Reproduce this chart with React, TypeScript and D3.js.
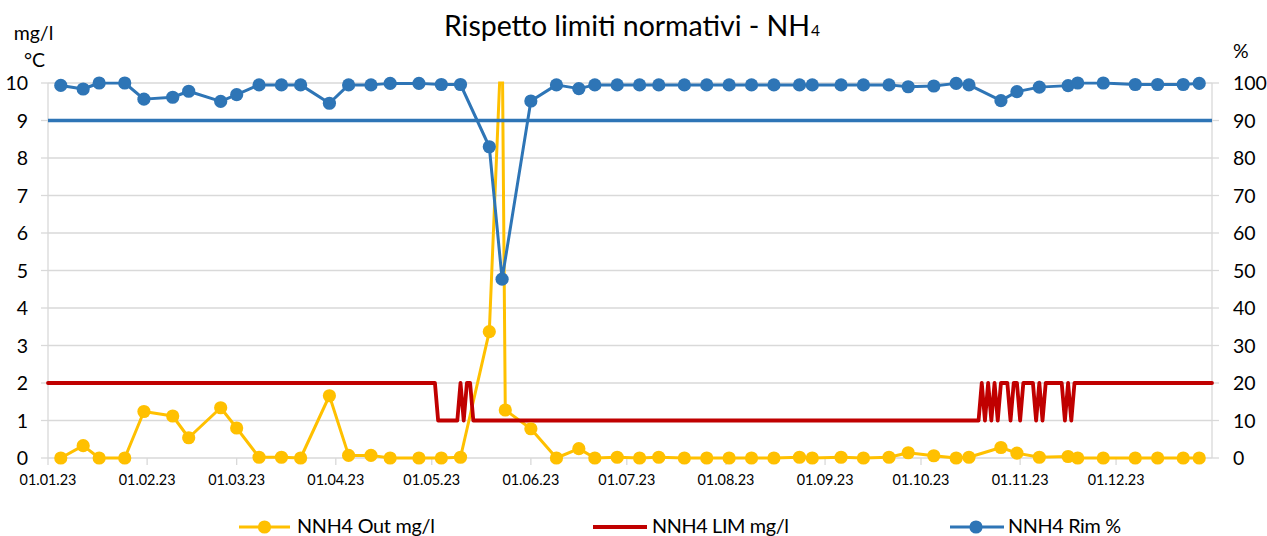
import React from "react";
import * as d3 from "d3";

// ---------- DATA ----------
const sampleDates = [
  "2023-01-05", "2023-01-12", "2023-01-17", "2023-01-25", "2023-01-31",
  "2023-02-09", "2023-02-14", "2023-02-24", "2023-03-01", "2023-03-08",
  "2023-03-15", "2023-03-21", "2023-03-30", "2023-04-05", "2023-04-12",
  "2023-04-18", "2023-04-27", "2023-05-04", "2023-05-10", "2023-05-19",
  "2023-05-23", "2023-05-24", "2023-06-01", "2023-06-09", "2023-06-16",
  "2023-06-21", "2023-06-28", "2023-07-05", "2023-07-11", "2023-07-19",
  "2023-07-26", "2023-08-02", "2023-08-09", "2023-08-16", "2023-08-24",
  "2023-08-28", "2023-09-06", "2023-09-13", "2023-09-21", "2023-09-27",
  "2023-10-05", "2023-10-12", "2023-10-16", "2023-10-26", "2023-10-31",
  "2023-11-07", "2023-11-16", "2023-11-19", "2023-11-27", "2023-12-07",
  "2023-12-14", "2023-12-22", "2023-12-27",
];

const outValues = [
  0, 0.33, 0, 0, 1.24,
  1.12, 0.54, 1.34, 0.8, 0.02,
  0.02, 0, 1.66, 0.07, 0.07,
  0, 0, 0, 0.02, 3.37,
  11.6, 1.28, 0.78, 0, 0.25,
  0, 0.02, 0, 0.02, 0,
  0, 0, 0, 0, 0.02,
  0, 0.02, 0, 0.02, 0.14,
  0.06, 0, 0.02, 0.28, 0.13,
  0.02, 0.04, 0, 0, 0,
  0, 0, 0,
];

const rimValues: (number | null)[] = [
  99.35, 98.4, 100, 100, 95.7,
  96.2, 97.8, 95.1, 96.9, 99.5,
  99.5, 99.5, 94.6, 99.5, 99.5,
  99.9, 99.9, 99.6, 99.6, 83,
  47.7, null, 95.2, 99.5, 98.5,
  99.5, 99.5, 99.5, 99.5, 99.5,
  99.5, 99.5, 99.5, 99.5, 99.5,
  99.5, 99.5, 99.5, 99.5, 99.0,
  99.2, 99.9, 99.5, 95.3, 97.7,
  98.9, 99.3, 100, 100, 99.6,
  99.6, 99.6, 99.9,
];

// LIM series vertices (daily series, collinear points omitted)
const limDates = [
  "2023-01-01", "2023-05-02", "2023-05-03", "2023-05-09", "2023-05-10",
  "2023-05-11", "2023-05-12", "2023-05-13", "2023-05-14", "2023-10-19",
  "2023-10-20", "2023-10-21", "2023-10-22", "2023-10-23", "2023-10-24",
  "2023-10-25", "2023-10-26", "2023-10-28", "2023-10-29", "2023-10-30",
  "2023-10-31", "2023-11-01", "2023-11-02", "2023-11-05", "2023-11-06",
  "2023-11-07", "2023-11-08", "2023-11-09", "2023-11-14", "2023-11-15",
  "2023-11-16", "2023-11-17", "2023-11-18", "2023-12-31",
];
const limValues = [
  2, 2, 1, 1, 2,
  1, 2, 2, 1, 1,
  2, 1, 2, 1, 2,
  1, 2, 2, 1, 2,
  2, 1, 2, 2, 1,
  2, 1, 2, 2, 1,
  2, 1, 2, 2,
];

const rimLimitDates = ["2023-01-01", "2023-12-31"];
const rimLimitValues = [90, 90];

const leftTicks = [0, 1, 2, 3, 4, 5, 6, 7, 8, 9, 10];
const rightTicks = [0, 10, 20, 30, 40, 50, 60, 70, 80, 90, 100];
const monthTicks = [
  "2023-01-01", "2023-02-01", "2023-03-01", "2023-04-01", "2023-05-01", "2023-06-01",
  "2023-07-01", "2023-08-01", "2023-09-01", "2023-10-01", "2023-11-01", "2023-12-01",
];
const xDomain = ["2023-01-01", "2023-12-31"];

const titleMain = "Rispetto limiti normativi  - NH";
const titleSub = "4";
const leftUnitLines = ["mg/l", "°C"];
const rightUnit = "%";
const seriesNames = ["NNH4 Out mg/l", "NNH4 LIM mg/l", "NNH4 Rim %"];

// ---------- STYLE ----------
const YELLOW = "#FFC000";
const RED = "#C00000";
const BLUE = "#2E75B6";
const GRID = "#D9D9D9";
const FONT = "Lato, 'Open Sans', sans-serif";

export default function App() {
  const W = 1267;
  const H = 536;
  const L = 48, R = 1212, T = 83, B = 458;

  const parse = d3.utcParse("%Y-%m-%d");
  const x = d3.scaleUtc().domain(xDomain.map((d) => parse(d) as Date)).range([L, R]);
  const yL = d3.scaleLinear().domain([0, 10]).range([B, T]);
  const yR = d3.scaleLinear().domain([0, 100]).range([B, T]);
  const fmt = d3.utcFormat("%d.%m.%y");

  type P = { d: Date; v: number };
  const outPts: P[] = sampleDates.map((d, i) => ({ d: parse(d) as Date, v: outValues[i] }));
  const rimPts: P[] = sampleDates
    .map((d, i) => ({ d: parse(d) as Date, v: rimValues[i] as number }))
    .filter((p, i) => rimValues[i] !== null);
  const limPts: P[] = limDates.map((d, i) => ({ d: parse(d) as Date, v: limValues[i] }));
  const rimLimPts: P[] = rimLimitDates.map((d, i) => ({ d: parse(d) as Date, v: rimLimitValues[i] }));

  const lineL = d3.line<P>().x((p) => x(p.d)).y((p) => yL(p.v));
  const lineR = d3.line<P>().x((p) => x(p.d)).y((p) => yR(p.v));

  const r = 6.6;
  const legY = 527;
  const legTextY = 532.5;

  return (
    <svg
      width={W}
      height={H}
      viewBox={`0 0 ${W} ${H}`}
      style={{ position: "absolute", left: 0, top: 0, display: "block", background: "#fff" }}
      fontFamily={FONT}
    >
      <defs>
        <clipPath id="clipLines">
          <rect x={L - 10} y={T - 1.5} width={R - L + 20} height={B - T + 10} />
        </clipPath>
        <clipPath id="clipMarkers">
          <rect x={L - 10} y={T - 9} width={R - L + 20} height={B - T + 20} />
        </clipPath>
      </defs>
      <rect x={0} y={0} width={W} height={H} fill="#fff" />

      {/* Title */}
      <text x={444} y={36} fontSize={28.5} fill="#000" textLength={366} lengthAdjust="spacing">
        {titleMain}
      </text>
      <text x={811} y={36} fontSize={15.5} fill="#000">
        {titleSub}
      </text>

      {/* Gridlines */}
      {leftTicks.map((t) => (
        <line key={"g" + t} x1={L} x2={R} y1={yL(t)} y2={yL(t)} stroke={GRID} strokeWidth={1.3} />
      ))}
      {/* Axis lines */}
      <line x1={L} x2={L} y1={T} y2={B} stroke={GRID} strokeWidth={1.3} />
      <line x1={R} x2={R} y1={T} y2={B} stroke={GRID} strokeWidth={1.3} />
      {/* Left ticks */}
      {leftTicks.map((t) => (
        <g key={"lt" + t}>
          <line x1={L - 7} x2={L} y1={yL(t)} y2={yL(t)} stroke={GRID} strokeWidth={1.3} />
          <text x={28} y={yL(t) + 7} fontSize={19.5} textAnchor="end" fill="#000">
            {t}
          </text>
        </g>
      ))}
      {/* Right ticks */}
      {rightTicks.map((t) => (
        <g key={"rt" + t}>
          <line x1={R} x2={R + 7} y1={yR(t)} y2={yR(t)} stroke={GRID} strokeWidth={1.3} />
          <text x={1233} y={yR(t) + 7} fontSize={19.5} textAnchor="start" fill="#000">
            {t}
          </text>
        </g>
      ))}
      {/* X ticks */}
      {monthTicks.map((m) => {
        const d = parse(m) as Date;
        const xx = x(d);
        return (
          <g key={m}>
            <line x1={xx} x2={xx} y1={B} y2={B + 7} stroke={GRID} strokeWidth={1.3} />
            <text x={xx} y={485} fontSize={14.4} textAnchor="middle" fill="#000">
              {fmt(d)}
            </text>
          </g>
        );
      })}

      {/* Axis unit labels */}
      <text x={33.5} y={40} fontSize={19.5} textAnchor="middle" fill="#000">
        {leftUnitLines[0]}
      </text>
      <text x={34.5} y={67} fontSize={19.5} textAnchor="middle" fill="#000">
        {leftUnitLines[1]}
      </text>
      <text x={1233} y={58} fontSize={19.5} textAnchor="start" fill="#000">
        {rightUnit}
      </text>

      {/* Series lines */}
      <g clipPath="url(#clipLines)" fill="none" strokeLinejoin="round" strokeLinecap="round">
        <path d={lineL(outPts) || ""} stroke={YELLOW} strokeWidth={3} />
        <path d={lineL(limPts) || ""} stroke={RED} strokeWidth={3.8} />
        <path d={lineR(rimLimPts) || ""} stroke={BLUE} strokeWidth={3.5} strokeLinecap="butt" />
        <path d={lineR(rimPts) || ""} stroke={BLUE} strokeWidth={3} />
      </g>
      {/* Markers */}
      <g clipPath="url(#clipMarkers)">
        {outPts.map((p, i) => (
          <circle key={"o" + i} cx={x(p.d)} cy={yL(p.v)} r={r} fill={YELLOW} />
        ))}
        {rimPts.map((p, i) => (
          <circle key={"b" + i} cx={x(p.d)} cy={yR(p.v)} r={r} fill={BLUE} />
        ))}
      </g>

      {/* Legend */}
      <g>
        <line x1={239} x2={290} y1={legY} y2={legY} stroke={YELLOW} strokeWidth={3} />
        <circle cx={264.5} cy={legY} r={r} fill={YELLOW} />
        <text x={297} y={legTextY} fontSize={19.8} fill="#000" textLength={138} lengthAdjust="spacing">
          {seriesNames[0]}
        </text>
        <line x1={593} x2={647} y1={legY} y2={legY} stroke={RED} strokeWidth={3.8} />
        <text x={652} y={legTextY} fontSize={19.8} fill="#000" textLength={137} lengthAdjust="spacing">
          {seriesNames[1]}
        </text>
        <line x1={950} x2={1004} y1={legY} y2={legY} stroke={BLUE} strokeWidth={3} />
        <circle cx={976} cy={legY} r={r} fill={BLUE} />
        <text x={1008} y={legTextY} fontSize={19.8} fill="#000" textLength={113} lengthAdjust="spacing">
          {seriesNames[2]}
        </text>
      </g>
    </svg>
  );
}
